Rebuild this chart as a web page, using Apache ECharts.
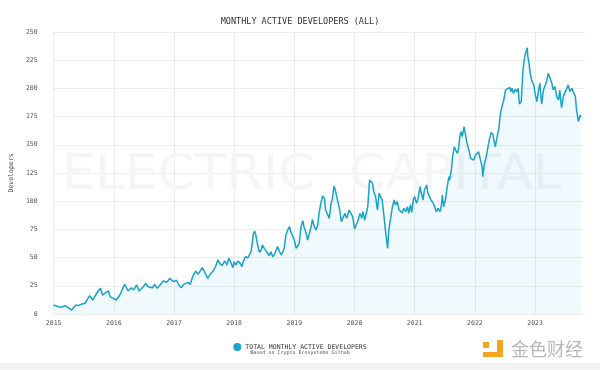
<!DOCTYPE html>
<html>
<head>
<meta charset="utf-8">
<script src="https://cdn.jsdelivr.net/npm/echarts@6/dist/echarts.min.js"></script>
<style>
html,body{margin:0;padding:0;background:#fff;}
#chart{width:600px;height:370px;}
</style>
</head>
<body>
<div id="chart"></div>
<script>
// Time positions as fractional years
const years = [
2015.00,2015.08,2015.13,2015.19,2015.24,2015.30,2015.33,2015.37,2015.41,2015.46,2015.52,2015.57,2015.60,2015.65,2015.68,2015.74,2015.78,2015.81,2015.85,2015.91,2015.94,2015.99,
2016.04,2016.10,2016.15,2016.18,2016.24,2016.29,2016.33,2016.38,2016.42,2016.49,2016.53,2016.57,2016.64,2016.68,2016.72,2016.76,2016.82,2016.84,2016.88,2016.93,2016.96,2016.99,
2017.04,2017.08,2017.12,2017.16,2017.19,2017.23,2017.27,2017.31,2017.36,2017.40,2017.42,2017.47,2017.51,2017.56,2017.60,2017.65,2017.69,2017.73,2017.76,2017.80,2017.84,2017.88,2017.91,2017.95,2017.98,
2018.00,2018.03,2018.06,2018.10,2018.13,2018.15,2018.19,2018.23,2018.25,2018.28,2018.30,2018.32,2018.34,2018.36,2018.39,2018.42,2018.45,2018.47,2018.50,2018.53,2018.56,2018.58,2018.61,2018.64,2018.67,2018.70,2018.72,2018.75,2018.78,2018.81,2018.83,2018.86,2018.89,2018.92,2018.94,2018.97,
2019.00,2019.03,2019.05,2019.08,2019.11,2019.14,2019.16,2019.19,2019.22,2019.25,2019.28,2019.30,2019.33,2019.36,2019.39,2019.41,2019.44,2019.47,2019.50,2019.52,2019.55,2019.58,2019.61,2019.63,2019.66,2019.68,2019.71,2019.73,2019.76,2019.78,2019.81,2019.84,2019.87,2019.91,2019.94,2019.97,
2020.00,2020.04,2020.06,2020.09,2020.12,2020.14,2020.17,2020.20,2020.22,2020.25,2020.27,2020.30,2020.32,2020.35,2020.38,2020.41,2020.44,2020.46,2020.49,2020.52,2020.55,2020.57,2020.60,2020.63,2020.66,2020.68,2020.71,2020.74,2020.77,2020.79,2020.82,2020.85,2020.88,2020.90,2020.93,2020.95,2020.98,
2021.00,2021.03,2021.05,2021.09,2021.11,2021.14,2021.16,2021.20,2021.22,2021.25,2021.27,2021.31,2021.33,2021.36,2021.39,2021.42,2021.44,2021.46,2021.48,2021.51,2021.54,2021.57,2021.58,2021.61,2021.63,2021.66,2021.68,2021.71,2021.73,2021.75,2021.77,2021.79,2021.82,2021.84,2021.87,2021.90,2021.93,2021.95,2021.98,
2022.01,2022.04,2022.06,2022.09,2022.12,2022.13,2022.16,2022.19,2022.22,2022.24,2022.27,2022.30,2022.32,2022.34,2022.37,2022.40,2022.42,2022.45,2022.48,2022.51,2022.52,2022.54,2022.58,2022.60,2022.62,2022.64,2022.67,2022.70,2022.72,2022.74,2022.77,2022.78,2022.80,2022.82,2022.84,2022.87,2022.88,2022.90,2022.92,2022.95,2022.98,
2023.00,2023.03,2023.06,2023.08,2023.11,2023.14,2023.17,2023.19,2023.22,2023.25,2023.28,2023.30,2023.33,2023.36,2023.39,2023.41,2023.44,2023.47,2023.50,2023.53,2023.55,2023.58,2023.61,2023.64,2023.67,2023.69,2023.72,2023.75,2023.76
];
// Total monthly active developers
const developers = [
8.0,6.5,5.9,7.4,5.6,3.5,3.8,8.0,7.4,8.6,9.5,13.9,16.2,12.4,15.3,20.4,22.8,16.8,18.3,20.4,15.3,13.9,
12.4,16.8,22.8,26.3,20.4,23.3,21.3,25.7,20.4,24.2,27.2,24.2,23.3,26.3,22.8,25.1,29.3,31.0,28.1,31.6,33.1,28.7,
30.1,25.7,23.3,26.3,25.1,28.1,26.3,33.1,38.1,35.2,34.6,41.1,37.0,31.6,35.2,38.1,42.0,47.9,44.9,42.8,47.0,43.4,49.4,44.9,41.1,
46.4,43.4,47.0,44.9,42.0,46.4,50.8,49.9,52.3,55.2,62.7,71.5,73.6,70.0,61.2,54.7,56.7,61.2,58.2,59.7,53.8,51.7,55.2,50.8,52.9,52.3,59.7,55.9,52.3,55.2,58.2,70.0,74.5,77.4,73.0,72.0,
65.6,58.2,57.3,62.7,77.4,82.7,77.4,73.0,65.6,64.1,77.4,83.9,77.4,74.5,78.9,89.2,98.1,104.6,102.5,92.2,93.7,84.8,98.1,101.6,113.5,109.9,109.3,98.1,90.7,81.9,83.3,89.2,84.8,92.2,89.2,86.3,
75.5,80.4,83.3,89.2,84.8,90.7,83.3,84.8,95.1,118.8,120.3,115.8,108.5,104.0,92.2,107.0,108.5,101.1,86.3,71.5,58.2,74.5,84.8,95.1,101.1,96.6,99.6,92.2,93.7,89.8,93.7,90.7,95.1,89.2,97.0,90.0,102.0,
104.0,98.1,101.1,112.9,107.0,101.1,109.9,114.4,107.0,104.0,101.1,98.1,95.1,90.7,93.7,90.7,95.1,105.5,95.1,101.1,112.9,121.7,118.8,127.7,139.5,148.3,145.4,142.4,146.9,157.2,161.6,157.2,166.0,160.2,151.3,145.4,138.0,139.5,136.5,
141.0,139.5,143.9,142.4,130.6,121.7,133.6,139.5,149.0,154.3,161.0,159.0,153.0,148.3,157.2,165.0,176.0,183.8,189.7,198.6,197.1,200.1,201.0,197.1,200.1,195.6,199.2,197.1,200.1,186.2,188.2,198.6,216.3,225.2,231.1,236.0,228.1,222.2,213.4,206.0,203.0,
195.6,188.2,198.6,204.5,186.0,198.6,203.0,206.0,213.4,208.9,204.5,198.6,201.5,192.7,189.7,198.6,183.0,192.7,197.1,200.1,203.0,197.1,200.1,198.6,192.7,180.9,170.5,176.4,174.4
];
const yearLabels = ['2015','2016','2017','2018','2019','2020','2021','2022','2023'];
const yTickLabels = ['0','25','50','75','100','125','150','175','200','225','250'];

const mono = "'DejaVu Sans Mono', 'Liberation Mono', monospace";
const chart = echarts.init(document.getElementById('chart'), null, {renderer:'canvas'});
chart.setOption({
  animation: false,
  backgroundColor: '#ffffff',
  title: {
    text: 'MONTHLY ACTIVE DEVELOPERS (ALL)',
    left: 'center', top: 12,
    textStyle: {fontFamily: mono, fontSize: 8.5, fontWeight: 'normal', color: '#333'}
  },
  legend: {
    data: [{name: 'TOTAL MONTHLY ACTIVE DEVELOPERS', icon: 'circle'}],
    left: 'center', top: 338,
    itemWidth: 8, itemHeight: 8, itemGap: 4,
    textStyle: {fontFamily: mono, fontSize: 6.5, color: '#333', padding: [0,0,0,-1]}
  },
  grid: {left: 52, right: 15, top: 32, bottom: 56},
  xAxis: {
    type: 'value',
    min: 2015, max: 2023.83, interval: 1,
    axisLine: {show: false},
    axisTick: {show: false},
    axisLabel: {
      fontFamily: mono, fontSize: 6.5, color: '#555', margin: 6,
      showMaxLabel: false,
      formatter: v => { const i = Math.round(v) - 2015; return (Math.abs(v - Math.round(v)) < 1e-6 && yearLabels[i]) ? yearLabels[i] : ''; }
    },
    splitLine: {show: true, showMaxLine: false, lineStyle: {color: '#ececec', width: 1}}
  },
  yAxis: {
    type: 'value', min: 0, max: 250, interval: 25,
    name: 'Developers', nameLocation: 'middle', nameGap: 31,
    nameTextStyle: {fontFamily: mono, fontSize: 6.5, color: '#444'},
    axisLine: {show: false}, axisTick: {show: false},
    axisLabel: {fontFamily: mono, fontSize: 6.5, color: '#555', margin: 16,
      formatter: v => yTickLabels[Math.round(v/25)]},
    splitLine: {lineStyle: {color: '#ececec', width: 1}}
  },
  graphic: [
    {type: 'text', z: 1, left: 62, top: 151, scaleX: 1.05,
     style: {text: 'ELECTRIC', fontFamily: "'DejaVu Sans'", fontSize: 50, fill: '#f5f5f5'}},
    {type: 'text', z: 1, left: 349, top: 151, scaleX: 1.05,
     style: {text: 'CAPITAL', fontFamily: "'DejaVu Sans'", fontSize: 50, fill: '#f5f5f5'}},
    {type: 'text', left: 'center', top: 350,
     style: {text: 'Based on Crypto Ecosystems Github', fontFamily: mono, fontSize: 5, fill: '#555'}},
    {type: 'rect', left: 0, top: 363, shape: {width: 600, height: 7}, style: {fill: '#f3f3f3'}},
    {type: 'rect', left: 483, top: 342, shape: {width: 6, height: 6}, style: {fill: '#f2a51f'}},
    {type: 'rect', left: 497, top: 340, shape: {width: 6, height: 17}, style: {fill: '#f2a51f'}},
    {type: 'rect', left: 483, top: 352, shape: {width: 20, height: 5}, style: {fill: '#f2a51f'}},
    {type: 'text', left: 511, top: 340,
     style: {text: '金色财经', fontFamily: "'Noto Sans CJK SC'", fontSize: 18, fill: '#b8b8b8'}}
  ],
  series: [{
    name: 'TOTAL MONTHLY ACTIVE DEVELOPERS',
    type: 'line',
    data: years.map((t, i) => [t, developers[i]]),
    showSymbol: false,
    color: '#1aa3cb',
    lineStyle: {color: '#17a3c9', width: 1.5},
    areaStyle: {color: 'rgba(40,175,230,0.1)'},
    z: 3
  }]
});
</script>
</body>
</html>
